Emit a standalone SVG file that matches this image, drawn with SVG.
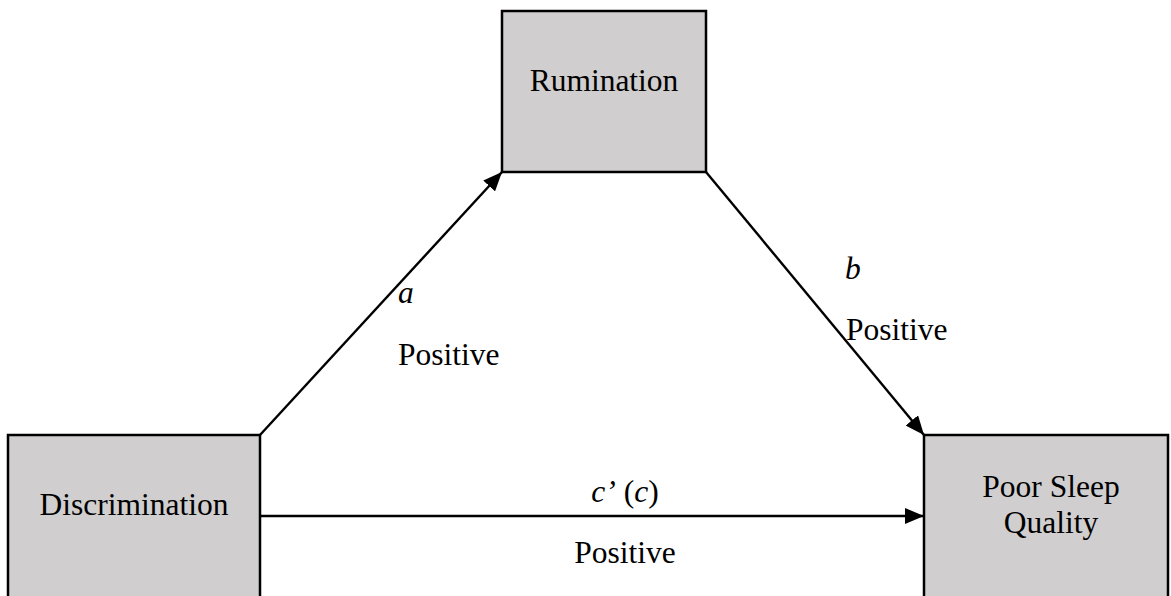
<svg xmlns="http://www.w3.org/2000/svg" width="1171" height="596" viewBox="0 0 1171 596">
<style>
.box{fill:#d0cece;stroke:#000;stroke-width:2.5}
.lbl{font-family:"Liberation Serif","Times New Roman",serif;font-size:31.5px;fill:#000}
.it{font-style:italic}
.edge{stroke:#000;stroke-width:2.4;fill:none}
</style>
<defs>
<marker id="arr" markerUnits="userSpaceOnUse" markerWidth="20" markerHeight="16" refX="19" refY="8" orient="auto">
<path d="M0,0 L19,8 L0,16 Z" fill="#000"/>
</marker>
</defs>
<rect width="1171" height="596" fill="#fff"/>
<g id="connectors">
<line class="edge" x1="260" y1="435" x2="502" y2="172" marker-end="url(#arr)"/>
<line class="edge" x1="706" y1="172" x2="924" y2="435" marker-end="url(#arr)"/>
<line class="edge" x1="260" y1="516" x2="924" y2="516" marker-end="url(#arr)"/>
<text class="lbl it" x="398" y="303">a</text>
<text class="lbl" x="398" y="365">Positive</text>
<text class="lbl it" x="845" y="279">b</text>
<text class="lbl" x="846" y="340">Positive</text>
<text class="lbl" x="625" y="502" text-anchor="middle"><tspan class="it">c’</tspan> (<tspan class="it">c</tspan>)</text>
<text class="lbl" x="625" y="563" text-anchor="middle">Positive</text>
</g>
<g id="rumination">
<rect class="box" x="502" y="11" width="204" height="161"/>
<text class="lbl" x="604" y="91" text-anchor="middle">Rumination</text>
</g>
<g id="discrimination">
<rect class="box" x="8" y="435" width="252" height="175"/>
<text class="lbl" x="134" y="515" text-anchor="middle">Discrimination</text>
</g>
<g id="sleep">
<rect class="box" x="924" y="435" width="244" height="175"/>
<text class="lbl" x="1051" y="497" text-anchor="middle">Poor Sleep</text>
<text class="lbl" x="1051" y="533" text-anchor="middle">Quality</text>
</g>
</svg>
